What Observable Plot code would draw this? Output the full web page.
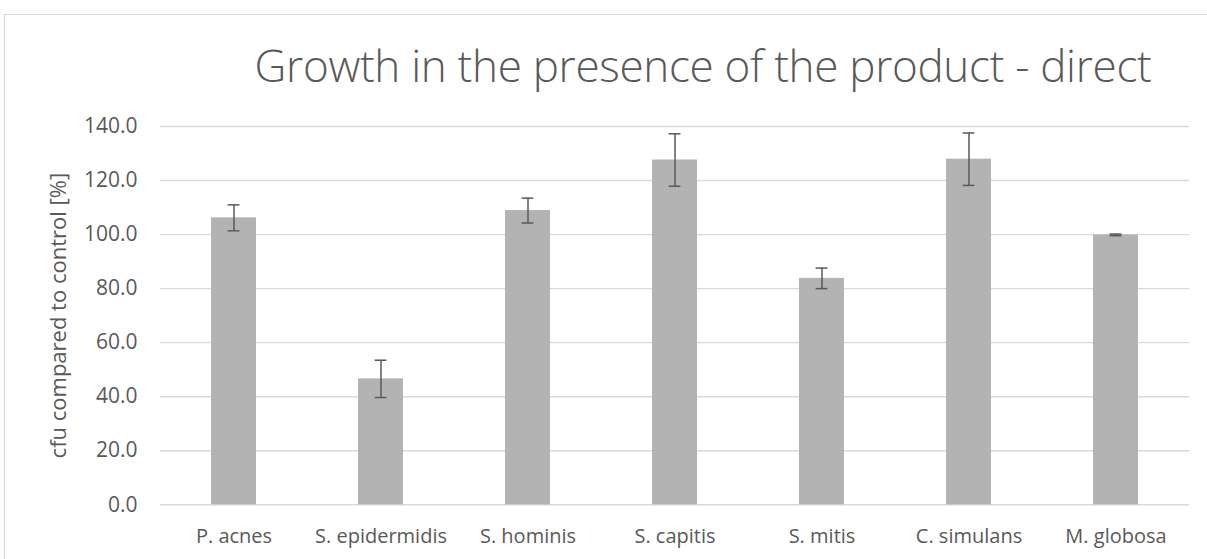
<!DOCTYPE html>
<html>
<head>
<meta charset="utf-8">
<script src="https://cdn.jsdelivr.net/npm/d3@7"></script>
<script src="https://cdn.jsdelivr.net/npm/@observablehq/plot@0.6"></script>
<style>
  html, body { margin: 0; padding: 0; background: #fff; }
  #wrap { position: relative; width: 1207px; height: 559px; overflow: hidden; font-family: "Open Sans", "Liberation Sans", sans-serif; }
  #frame { position: absolute; left: 4px; top: 14px; width: 1220px; height: 600px; border: 1.5px solid #d9d9d9; box-sizing: border-box; }
  #title { position: absolute; left: 0; top: 35px; width: 1406px; text-align: center; font-size: 44px; font-weight: 300; color: #595959; white-space: nowrap; letter-spacing: -0.3px; }
  #chart { position: absolute; left: 0; top: 0; }
</style>
</head>
<body>
<div id="wrap">
  <div id="frame"></div>
  <div id="title">Growth in the presence of the product - direct</div>
  <div id="chart"></div>
</div>
<script>
const categories = ["P. acnes", "S. epidermidis", "S. hominis", "S. capitis", "S. mitis", "C. simulans", "M. globosa"];
const values = [106.2, 46.6, 108.9, 127.6, 83.8, 127.9, 99.9];
const errors = [4.8, 6.9, 4.6, 9.7, 3.8, 9.7, 0.3];
const yTicks = [0, 20, 40, 60, 80, 100, 120, 140];

const data = categories.map((c, i) => ({ cat: c, value: values[i], err: errors[i] }));

const chart = Plot.plot({
  width: 1207,
  height: 559,
  marginTop: 126,
  marginBottom: 54.7,
  marginLeft: 160,
  marginRight: 18,
  style: { fontFamily: "'Open Sans', 'Liberation Sans', sans-serif", color: "#595959", background: "transparent" },
  x: { domain: categories, paddingInner: 0.692, paddingOuter: 0.346, label: null, tickSize: 0, tickPadding: 24 },
  y: { domain: [0, 140], ticks: yTicks, tickFormat: d => d.toFixed(1), label: null, tickSize: 0, tickPadding: 23 },
  marks: [
    Plot.ruleY(yTicks, { stroke: "#d9d9d9", strokeWidth: 1.4 }),
    Plot.barY(data, { x: "cat", y: "value", fill: "#b3b3b3" }),
    Plot.ruleX(data, { x: "cat", y1: d => d.value - d.err, y2: d => d.value + d.err, stroke: "#595959", strokeWidth: 1.5 }),
    Plot.tickY(data, { x: "cat", y: d => d.value + d.err, stroke: "#595959", strokeWidth: 1.5, insetLeft: 16.6, insetRight: 16.6 }),
    Plot.tickY(data, { x: "cat", y: d => d.value - d.err, stroke: "#595959", strokeWidth: 1.5, insetLeft: 16.6, insetRight: 16.6 }),
    Plot.axisY({ ticks: yTicks, tickFormat: d => d.toFixed(1), tickSize: 0, tickPadding: 23, fontSize: 21, label: null }),
    Plot.axisX({ tickSize: 0, tickPadding: 24, fontSize: 20, label: null }),
    Plot.text(["cfu compared to control [%]"], { frameAnchor: "left", textAnchor: "middle", rotate: -90, dx: -102, fontSize: 22, fill: "#595959" })
  ]
});
document.getElementById("chart").appendChild(chart);
</script>
</body>
</html>
